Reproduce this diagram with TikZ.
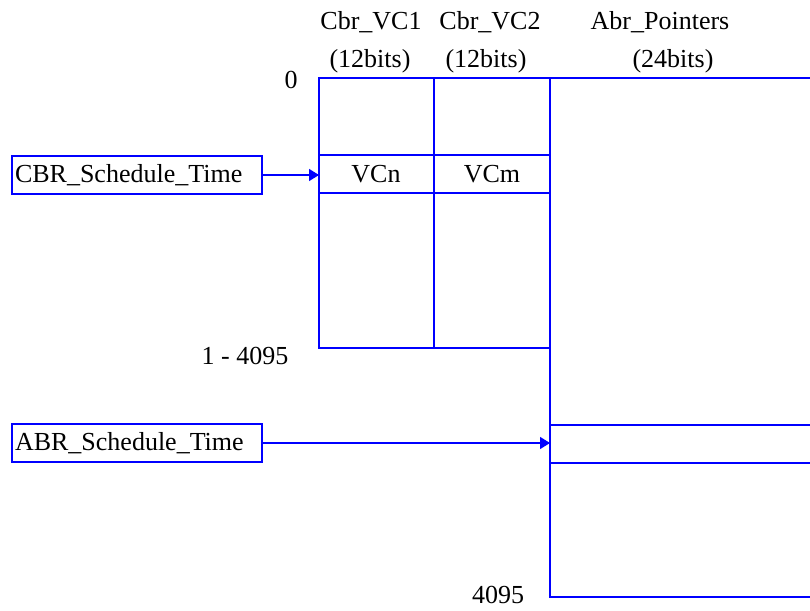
\documentclass[tikz,border=0pt]{standalone}
\usepackage{fontspec}
\setmainfont{Liberation Serif}
\usetikzlibrary{arrows.meta}
\definecolor{lblue}{RGB}{0,0,255}
\begin{document}
\begin{tikzpicture}[x=1pt,y=-1pt,
  line/.style={draw=lblue,line width=1.8pt},
  lbl/.style={inner sep=0pt,font=\fontsize{26}{30}\selectfont},
  srcbox/.style={draw=lblue,line width=1.6pt,text width=244pt,align=left,inner xsep=3pt,minimum height=38pt,inner ysep=0pt,font=\fontsize{26}{30}\selectfont},
  cell/.style={inner sep=0pt,font=\fontsize{26}{30}\selectfont},
  arr/.style={draw=lblue,line width=1.4pt,-{Triangle[length=10pt,width=12pt]}}]
\useasboundingbox (0,0) rectangle (810,610);
% CBR table
\draw[line] (319,78) rectangle (550,348);
\draw[line] (434,78) -- (434,348);
\draw[line] (319,155) -- (550,155);
\draw[line] (319,193) -- (550,193);
% ABR column
\draw[line] (550,78) -- (812,78);
\draw[line] (550,78) -- (550,597) -- (812,597);
\draw[line] (550,425) -- (812,425);
\draw[line] (550,463) -- (812,463);
\coordinate (cbrin) at (319,175);
\coordinate (abrin) at (550,443);
% headers
\node[lbl] (h1) at (371,22) {Cbr\_VC1};
\node[lbl] (h2) at (490,22) {Cbr\_VC2};
\node[lbl] (h3) at (660,22) {Abr\_Pointers};
\node[lbl] (b1) at (370,61) {(12bits)};
\node[lbl] (b2) at (486,61) {(12bits)};
\node[lbl] (b3) at (673,61) {(24bits)};
\node[lbl] (z0) at (291,80) {0};
\node[lbl] (z1) at (245,356) {1 - 4095};
\node[lbl] (z2) at (498,595) {4095};
\node[cell] (vcn) at (376,174) {VCn};
\node[cell] (vcm) at (492,174) {VCm};
% sources
\node[srcbox] (cbr) at (137,175) {CBR\_Schedule\_Time};
\node[srcbox] (abr) at (137,443) {ABR\_Schedule\_Time};
\draw[arr] (cbr.east) -- (cbrin);
\draw[arr] (abr.east) -- (abrin);
\end{tikzpicture}
\end{document}
